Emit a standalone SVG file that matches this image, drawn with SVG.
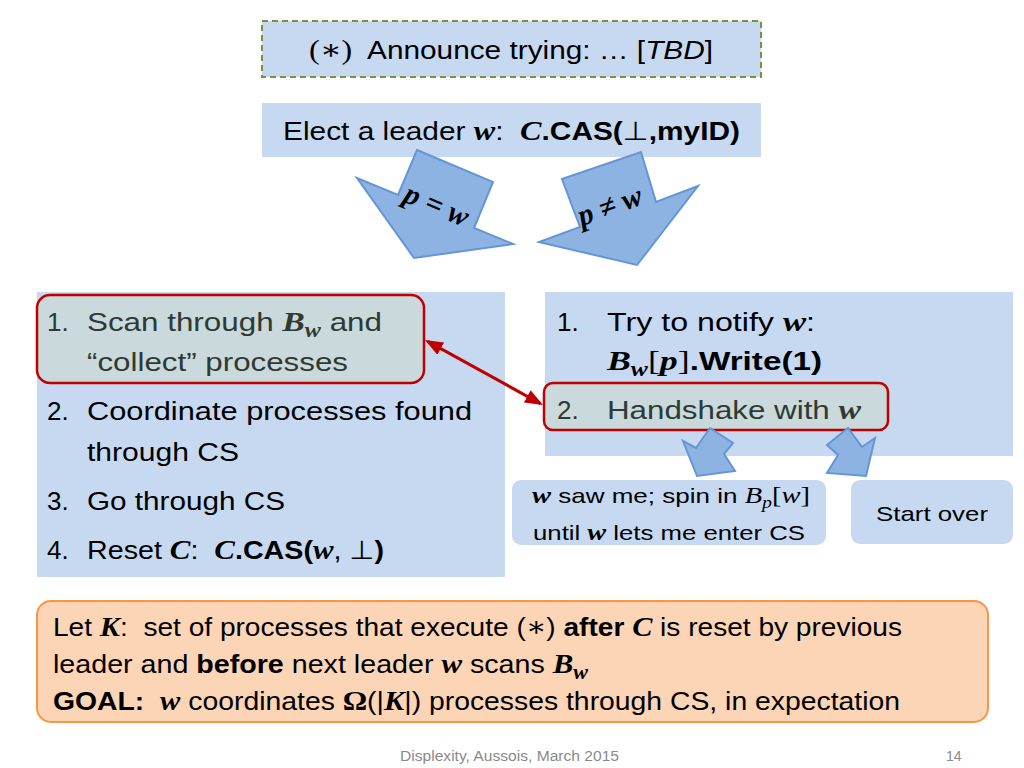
<svg xmlns="http://www.w3.org/2000/svg" width="1024" height="768" viewBox="0 0 1024 768">
<style>
  .t { font-family: "Liberation Sans", "DejaVu Sans", sans-serif; font-size: 26px; fill: #000; white-space: pre; }
  .m { font-family: "Liberation Serif", "DejaVu Serif", serif; font-weight: bold; font-style: italic; font-size: 28px; }
  .mr { font-family: "Liberation Serif", "DejaVu Serif", serif; font-size: 28px; }
  .sub { font-size: 20px; }
  .b { font-weight: bold; }
  .i { font-style: italic; }
  .box { fill: #c6d9f1; }
  .hl { fill: #c9d9dc; stroke: #c00000; stroke-width: 2.5; }
  .hlt { fill: #2e3a33; }
  .blk { fill: #8db3e2; stroke: #6496d6; stroke-width: 2; stroke-linejoin: miter; }
  .sm { font-size: 21px; }
  .sm .m, .sm .mr { font-size: 23px; }
  .sm .sub { font-size: 16px; }
  .lbl { font-size: 30px; }
  .foot { font-family: "Liberation Sans", sans-serif; font-size: 14px; fill: #898989; }
</style>
<defs>
  <marker id="ah" markerUnits="userSpaceOnUse" markerWidth="18" markerHeight="14" viewBox="0 0 18 14" refX="15" refY="7" orient="auto-start-reverse">
    <path d="M0,0 L18,7 L0,14 z" fill="#c00000"/>
  </marker>
</defs>
<rect width="1024" height="768" fill="#ffffff"/>

<g id="announce">
  <rect x="262" y="21" width="499" height="56" class="box" stroke="#77933c" stroke-width="2" stroke-dasharray="6 4"/>
  <text class="t" x="309" y="59" textLength="404" lengthAdjust="spacingAndGlyphs"><tspan class="mr">(∗)</tspan>  Announce trying: … [<tspan class="i">TBD</tspan>]</text>
</g>

<g id="elect">
  <rect x="262" y="103" width="499" height="54" class="box"/>
  <text class="t" x="283" y="140" textLength="457" lengthAdjust="spacingAndGlyphs">Elect a leader <tspan class="m">w</tspan>:  <tspan class="m">C</tspan><tspan class="b">.CAS(</tspan>⊥<tspan class="b">,myID)</tspan></text>
</g>

<g id="leader">
  <rect x="37" y="292" width="468" height="285" class="box"/>
  <rect x="37" y="295" width="387" height="88" rx="13" class="hl"/>
  <text class="t hlt" x="47" y="331">1.</text>
  <text class="t hlt" x="87" y="331" textLength="295" lengthAdjust="spacingAndGlyphs">Scan through <tspan class="m">B</tspan><tspan class="m sub" dy="6">w</tspan><tspan dy="-6"> and</tspan></text>
  <text class="t hlt" x="87" y="371" textLength="261" lengthAdjust="spacingAndGlyphs">“collect” processes</text>
  <text class="t" x="47" y="420">2.</text>
  <text class="t" x="87" y="420" textLength="385" lengthAdjust="spacingAndGlyphs">Coordinate processes found</text>
  <text class="t" x="87" y="461" textLength="152" lengthAdjust="spacingAndGlyphs">through CS</text>
  <text class="t" x="47" y="510">3.</text>
  <text class="t" x="87" y="510" textLength="198" lengthAdjust="spacingAndGlyphs">Go through CS</text>
  <text class="t" x="47" y="559">4.</text>
  <text class="t" x="87" y="559" textLength="297" lengthAdjust="spacingAndGlyphs">Reset <tspan class="m">C</tspan>:  <tspan class="m">C</tspan><tspan class="b">.CAS(</tspan><tspan class="m">w</tspan>, ⊥<tspan class="b">)</tspan></text>
</g>

<g id="nonleader">
  <rect x="545" y="292" width="468" height="164" class="box"/>
  <text class="t" x="557" y="331">1.</text>
  <text class="t" x="607" y="331" textLength="208" lengthAdjust="spacingAndGlyphs">Try to notify <tspan class="m">w</tspan>:</text>
  <text class="t" x="607" y="370" textLength="215" lengthAdjust="spacingAndGlyphs"><tspan class="m">B</tspan><tspan class="m sub" dy="6">w</tspan><tspan class="mr" dy="-6">[</tspan><tspan class="m">p</tspan><tspan class="mr">]</tspan><tspan class="b">.Write(1)</tspan></text>
  <rect x="544" y="383" width="344" height="47" rx="9" class="hl"/>
  <text class="t hlt" x="557" y="419">2.</text>
  <text class="t hlt" x="607" y="419" textLength="254" lengthAdjust="spacingAndGlyphs">Handshake with <tspan class="m">w</tspan></text>
</g>

<g id="spin">
  <rect x="512" y="480" width="314" height="65" rx="9" class="box"/>
  <text class="t sm" x="532" y="503" textLength="278" lengthAdjust="spacingAndGlyphs"><tspan class="m">w</tspan> saw me; spin in <tspan class="mr i">B</tspan><tspan class="mr i sub" dy="5">p</tspan><tspan class="mr" dy="-5">[</tspan><tspan class="mr i">w</tspan><tspan class="mr">]</tspan></text>
  <text class="t sm" x="533" y="540" textLength="272" lengthAdjust="spacingAndGlyphs">until <tspan class="m">w</tspan> lets me enter CS</text>
</g>

<g id="startover">
  <rect x="851" y="480" width="162" height="64" rx="9" class="box"/>
  <text class="t sm" x="876" y="521" textLength="112" lengthAdjust="spacingAndGlyphs">Start over</text>
</g>

<g id="goal">
  <rect x="37" y="601" width="951" height="121" rx="14" fill="#fbd5b5" stroke="#f79646" stroke-width="2"/>
  <text class="t" x="53" y="636" textLength="849" lengthAdjust="spacingAndGlyphs">Let <tspan class="m">K</tspan>:  set of processes that execute (<tspan class="mr">∗</tspan>) <tspan class="b">after</tspan> <tspan class="m">C</tspan> is reset by previous</text>
  <text class="t" x="53" y="673" textLength="535" lengthAdjust="spacingAndGlyphs">leader and <tspan class="b">before</tspan> next leader <tspan class="m">w</tspan> scans <tspan class="m">B</tspan><tspan class="m sub" dy="6">w</tspan></text>
  <text class="t" x="53" y="710" textLength="847" lengthAdjust="spacingAndGlyphs"><tspan class="b">GOAL:</tspan>  <tspan class="m">w</tspan> coordinates <tspan class="b mr">Ω</tspan>(|<tspan class="m">K</tspan>|) processes through CS, in expectation</text>
</g>

<g id="connectors">
  <polygon class="blk" points="417,150 493,182 474,228 513,244 414,258 357,178 398,195"/>
  <polygon class="blk" points="562,179 641,152 656,202 698,186 637,265 539,242 580,227"/>
  <polygon class="blk" points="710,428 733,443 724,454 735,471 697,476 683,441 696,448"/>
  <polygon class="blk" points="848,428 827,445 838,455 827,473 866,476 875,438 862,447"/>
  <line x1="427.6" y1="341.4" x2="540.4" y2="403.6" stroke="#c00000" stroke-width="3" marker-start="url(#ah)" marker-end="url(#ah)"/>
  <text class="t m lbl" x="0" y="0" text-anchor="middle" transform="translate(433,214) rotate(23)">p = w</text>
  <text class="t m lbl" x="0" y="0" text-anchor="middle" transform="translate(613,215) rotate(-20)">p ≠ w</text>
</g>

<g id="footer">
  <text class="foot" x="400" y="761" textLength="219" lengthAdjust="spacingAndGlyphs">Displexity, Aussois, March 2015</text>
  <text class="foot" x="946" y="761">14</text>
</g>
</svg>
